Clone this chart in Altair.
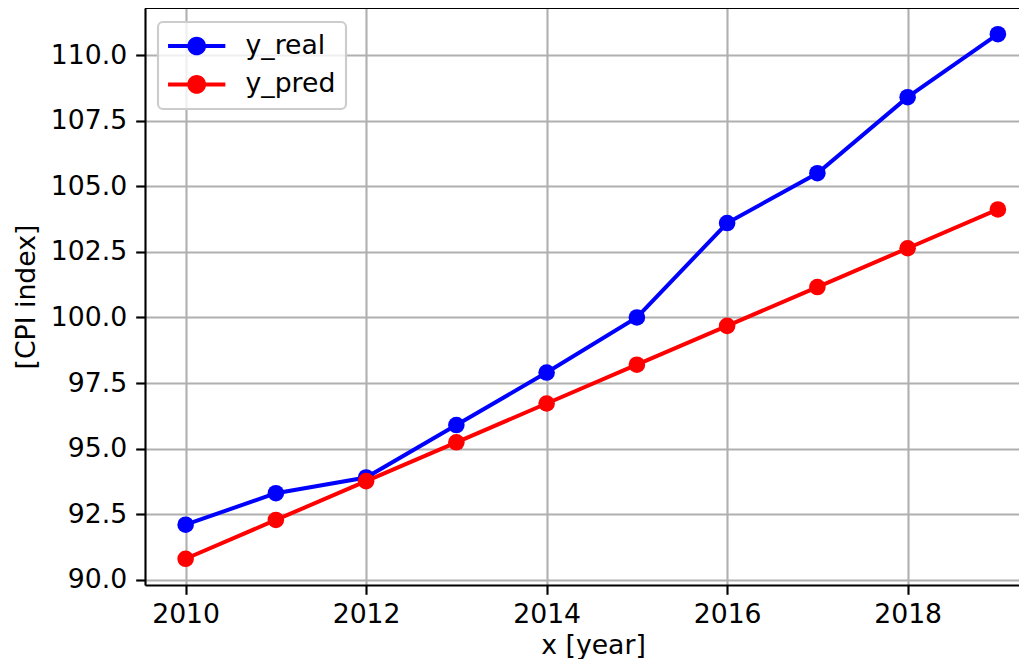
import altair as alt
import pandas as pd

years = [2010, 2011, 2012, 2013, 2014, 2015, 2016, 2017, 2018, 2019]
y_real = [92.1, 93.3, 93.9, 95.9, 97.9, 100.0, 103.6, 105.5, 108.4, 110.8]
y_pred = [90.8, 92.28, 93.76, 95.24, 96.72, 98.2, 99.68, 101.16, 102.64, 104.12]
series_names = ["y_real", "y_pred"]
series_colors = ["#0000ff", "#ff0000"]
x_ticks = [2010, 2012, 2014, 2016, 2018]
y_ticks = [90.0, 92.5, 95.0, 97.5, 100.0, 102.5, 105.0, 107.5, 110.0]

rows = []
for name, vals in zip(series_names, [y_real, y_pred]):
    for yr, v in zip(years, vals):
        rows.append({"year": yr, "value": v, "series": name})
df = pd.DataFrame(rows)

FONT = "DejaVu Sans"
FS = 26.7
LW = 2.13

x_scale = alt.Scale(domain=[2009.55, 2019.234], nice=False, zero=False)
y_scale = alt.Scale(domain=[89.8, 111.8], nice=False, zero=False)

x_enc = alt.X("year:Q", scale=x_scale,
              axis=alt.Axis(values=x_ticks, format="d", title="x [year]",
                            titleX=448, titleY=68, titleBaseline="alphabetic",
                            titleAnchor="start", titleAlign="center"))
y_enc = alt.Y("value:Q", scale=y_scale,
              axis=alt.Axis(values=y_ticks, format=".1f", title="[CPI index]",
                            titleX=-119, titleBaseline="middle", titleAngle=-90))

legend_path = ("M-2.046,-0.143 L2.046,-0.143 L2.046,0.143 L-2.046,0.143 Z "
               "M-0.668,0 A0.668,0.668 0 1,1 0.668,0 A0.668,0.668 0 1,1 -0.668,0 Z")

color_enc = alt.Color("series:N",
                      scale=alt.Scale(domain=series_names, range=series_colors),
                      sort=series_names,
                      legend=alt.Legend(title=None, orient="none", legendX=13, legendY=14,
                                        symbolType=legend_path, symbolSize=784,
                                        symbolStrokeWidth=0, symbolOffset=14.7,
                                        labelFontSize=FS, labelFont=FONT, labelColor="black",
                                        labelOffset=34.8, rowPadding=10.4, padding=10,
                                        fillColor="rgba(255,255,255,0.8)",
                                        strokeColor="#cccccc",
                                        cornerRadius=5))

# top spine (plot frame), drawn before the data
top_spine = alt.Chart(df).mark_rule(color="black", strokeWidth=LW).encode(
    x=alt.value(0), x2=alt.value({"expr": "width"}), y=alt.value(0))

layers = [top_spine]
for name in series_names:
    base = alt.Chart(df).transform_filter(alt.datum.series == name).encode(
        x=x_enc, y=y_enc, color=color_enc)
    layers.append(base.mark_point(filled=True, size=275, opacity=1, strokeWidth=0))
    layers.append(base.mark_line(strokeWidth=4))

chart = alt.layer(*layers).properties(
    width=874, height=577,
    autosize=alt.AutoSizeParams(type="none"),
    padding={"left": 137, "top": 0, "right": 0, "bottom": 74},
).configure_view(
    strokeWidth=0
).configure_legend(
    strokeWidth=LW
).configure_axis(
    labelFont=FONT, labelFontSize=FS, labelColor="black",
    titleFont=FONT, titleFontSize=FS, titleColor="black", titleFontWeight="normal",
    grid=True, gridColor="#b0b0b0", gridWidth=LW,
    domainColor="black", domainWidth=LW,
    tickColor="black", tickWidth=LW, tickSize=9.3,
    labelPadding=7.6,
).configure_axisY(
    labelPadding=9
)

chart.save("out.html", embed_options={"renderer": "svg", "actions": False})
